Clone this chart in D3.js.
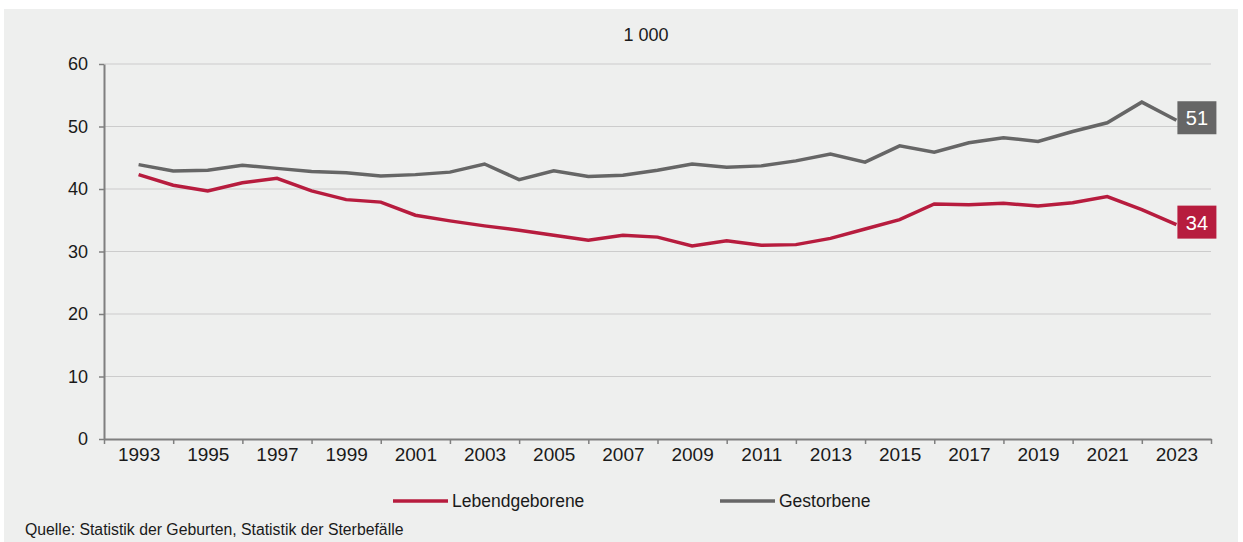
<!DOCTYPE html>
<html>
<head>
<meta charset="utf-8">
<script src="https://cdn.jsdelivr.net/npm/d3@7"></script>
<style>
  body { margin: 0; background: #fff; }
  svg { display: block; font-family: "Liberation Sans", Arial, sans-serif; }
</style>
</head>
<body>
<script>
// values in 1 000
const years = d3.range(1993, 2024);
const births = [42.3, 40.6, 39.7, 41.0, 41.7, 39.7, 38.3, 37.9, 35.8, 34.9, 34.1,
                33.4, 32.6, 31.8, 32.6, 32.3, 30.9, 31.7, 31.0, 31.1, 32.1, 33.6,
                35.1, 37.6, 37.5, 37.7, 37.3, 37.8, 38.8, 36.7, 34.3];
const deaths = [43.9, 42.9, 43.0, 43.8, 43.3, 42.8, 42.6, 42.1, 42.3, 42.7, 44.0,
                41.5, 42.9, 42.0, 42.2, 43.0, 44.0, 43.5, 43.7, 44.5, 45.6, 44.3,
                46.9, 45.9, 47.4, 48.2, 47.6, 49.2, 50.6, 53.9, 51.0];
const seriesNames = ["Lebendgeborene", "Gestorbene"];
const yTicks = [0, 10, 20, 30, 40, 50, 60];
const tickYears = d3.range(1992, 2025, 2);   // tick marks between labels
const labelYears = d3.range(1993, 2024, 2);  // labelled years
const unitLabel = "1 000";
const sourceText = "Quelle: Statistik der Geburten, Statistik der Sterbefälle";

const colors = { births: "#b71c3e", deaths: "#666666" };

const W = 1243, H = 542;
const svg = d3.select("body").append("svg")
  .attr("width", W)
  .attr("height", H);

// light grey panel
svg.append("rect")
  .attr("x", 4).attr("y", 9)
  .attr("width", 1234).attr("height", 533)
  .attr("fill", "#eeefee");

const xScale = d3.scaleLinear().domain([1992, 2024]).range([104, 1211]);
const yScale = d3.scaleLinear().domain([0, 60]).range([439, 64]);

// gridlines
svg.append("g")
  .selectAll("line")
  .data(yTicks.filter(d => d > 0))
  .join("line")
  .attr("x1", xScale(1992)).attr("x2", xScale(2024))
  .attr("y1", d => yScale(d)).attr("y2", d => yScale(d))
  .attr("stroke", "#cccccc")
  .attr("stroke-width", 1.2);

// y axis
const yAxis = d3.axisLeft(yScale)
  .tickValues(yTicks)
  .tickSize(5)
  .tickSizeOuter(0)
  .tickPadding(11);
const yG = svg.append("g")
  .attr("transform", "translate(" + xScale(1992) + ",0)")
  .call(yAxis);
yG.select(".domain").attr("stroke", "#7f7f7f").attr("stroke-width", 2);
yG.selectAll(".tick line").attr("stroke", "#7f7f7f").attr("stroke-width", 1.5);
yG.selectAll(".tick text")
  .attr("fill", "#1a1a1a")
  .style("font-size", "18px")
  .style("font-family", "'Liberation Sans', Arial, sans-serif");

// x axis: ticks only
const xAxis = d3.axisBottom(xScale)
  .tickValues(tickYears)
  .tickFormat("")
  .tickSize(5)
  .tickSizeOuter(0);
const xG = svg.append("g")
  .attr("transform", "translate(0," + yScale(0) + ")")
  .call(xAxis);
xG.select(".domain").attr("stroke", "#7f7f7f").attr("stroke-width", 2);
xG.selectAll(".tick line").attr("stroke", "#7f7f7f").attr("stroke-width", 1.5);

// x axis: labels on odd years
const xLabAxis = d3.axisBottom(xScale)
  .tickValues(labelYears)
  .tickFormat(d3.format("d"))
  .tickSize(0)
  .tickPadding(9);
const xLG = svg.append("g")
  .attr("transform", "translate(0," + yScale(0) + ")")
  .call(xLabAxis);
xLG.select(".domain").remove();
xLG.selectAll(".tick text")
  .attr("fill", "#1a1a1a")
  .style("font-size", "19px")
  .style("font-family", "'Liberation Sans', Arial, sans-serif");

// unit label on top
svg.append("text")
  .attr("x", 646).attr("y", 41)
  .attr("text-anchor", "middle")
  .attr("fill", "#1a1a1a")
  .style("font-size", "18px")
  .text(unitLabel);

// lines
const line = d3.line()
  .x((d, i) => xScale(years[i]))
  .y(d => yScale(d));

svg.append("path")
  .datum(deaths)
  .attr("d", line)
  .attr("fill", "none")
  .attr("stroke", colors.deaths)
  .attr("stroke-width", 3.5)
  .attr("stroke-linejoin", "miter");

svg.append("path")
  .datum(births)
  .attr("d", line)
  .attr("fill", "none")
  .attr("stroke", colors.births)
  .attr("stroke-width", 3.5)
  .attr("stroke-linejoin", "miter");

// end value boxes
const lastYear = years[years.length - 1];
const ends = [
  { v: deaths[deaths.length - 1], c: colors.deaths },
  { v: births[births.length - 1], c: colors.births }
];
const endG = svg.append("g")
  .selectAll("g")
  .data(ends)
  .join("g")
  .attr("transform", d => "translate(" + (xScale(lastYear) + 1) + "," + (yScale(d.v) - 2) + ")");
endG.append("rect")
  .attr("x", 0).attr("y", -17)
  .attr("width", 39).attr("height", 33)
  .attr("fill", d => d.c);
endG.append("text")
  .attr("x", 19.5).attr("y", 7)
  .attr("text-anchor", "middle")
  .attr("fill", "#ffffff")
  .style("font-size", "20px")
  .text(d => d3.format(".0f")(d.v));

// legend
const legendItems = [
  { name: seriesNames[0], c: colors.births, x: 393 },
  { name: seriesNames[1], c: colors.deaths, x: 720 }
];
const leg = svg.append("g")
  .selectAll("g")
  .data(legendItems)
  .join("g")
  .attr("transform", d => "translate(" + d.x + ",501)");
leg.append("line")
  .attr("x1", 0).attr("x2", 55)
  .attr("stroke", d => d.c)
  .attr("stroke-width", 3.5);
leg.append("text")
  .attr("x", 59).attr("y", 6)
  .attr("fill", "#1a1a1a")
  .style("font-size", "17.5px")
  .text(d => d.name);

// source note
svg.append("text")
  .attr("x", 25).attr("y", 535)
  .attr("fill", "#1a1a1a")
  .style("font-size", "15.8px")
  .text(sourceText);
</script>
</body>
</html>
